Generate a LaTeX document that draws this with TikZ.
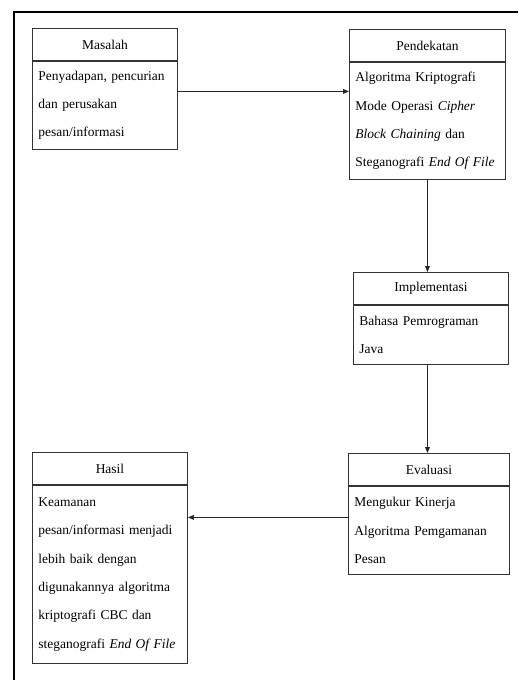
\documentclass[tikz,border=0pt]{standalone}
\usepackage{fontspec}
\setmainfont{Liberation Serif}
\usepackage{tikz}
\usetikzlibrary{arrows.meta, positioning, calc}

\begin{document}
\begin{tikzpicture}[
    x=0.03cm, y=-0.03cm,
    arr/.style={-{Triangle[length=5pt, width=4pt]}, line width=0.7pt, black!85},
    judul/.style={draw=black!80, line width=0.8pt, anchor=north west, minimum height=0.96cm,
      font=\fontsize{11.5pt}{24pt}\selectfont},
    isi/.style={draw=black!80, line width=0.8pt, anchor=north west, align=left, inner xsep=0.18cm,
      font=\fontsize{11.5pt}{24.2pt}\selectfont}
  ]
  \useasboundingbox (0,0) rectangle (518,680);
  % bingkai luar
  \draw[line width=1.5pt] (14,680) -- (14,12) -- (518,12);

  \node[judul, minimum width=4.35cm] (masalah) at (32,28) {Masalah};
  \node[isi, text width=3.99cm, minimum height=2.64cm] (masalahIsi) at (masalah.south west)
    {Penyadapan, pencurian\\dan perusakan\\pesan/informasi};

  \node[judul, minimum width=4.68cm] (pendekatan) at (349,29) {Pendekatan};
  \node[isi, text width=4.32cm, minimum height=3.51cm] (pendekatanIsi) at (pendekatan.south west)
    {Algoritma Kriptografi\\Mode Operasi \textit{Cipher}\\\textit{Block Chaining} dan\\Steganografi \textit{End Of File}};

  \node[judul, minimum width=4.65cm] (implementasi) at (353,272) {Implementasi};
  \node[isi, text width=4.29cm, minimum height=1.77cm] (implementasiIsi) at (implementasi.south west)
    {Bahasa Pemrograman\\Java};

  \node[judul, minimum width=4.83cm] (evaluasi) at (348,453) {Evaluasi};
  \node[isi, text width=4.47cm, minimum height=2.64cm] (evaluasiIsi) at (evaluasi.south west)
    {Mengukur Kinerja\\Algoritma Pemgamanan\\Pesan};

  \node[judul, minimum width=4.65cm] (hasil) at (32,452) {Hasil};
  \node[isi, text width=4.29cm, minimum height=5.34cm] (hasilIsi) at (hasil.south west)
    {Keamanan\\pesan/informasi menjadi\\lebih baik dengan\\digunakannya algoritma\\kriptografi CBC dan\\steganografi \textit{End Of File}};

  % panah
  \coordinate (a1) at ([yshift=0.42cm]masalahIsi.east);
  \draw[arr] (a1) -- (a1 -| pendekatanIsi.west);
  \draw[arr] (pendekatanIsi.south) -- (pendekatanIsi.south |- implementasi.north);
  \draw[arr] (pendekatanIsi.south |- implementasiIsi.south) -- (pendekatanIsi.south |- evaluasi.north);
  \coordinate (a2) at ([yshift=0.39cm]evaluasiIsi.west);
  \draw[arr] (a2) -- (a2 -| hasilIsi.east);
\end{tikzpicture}
\end{document}
